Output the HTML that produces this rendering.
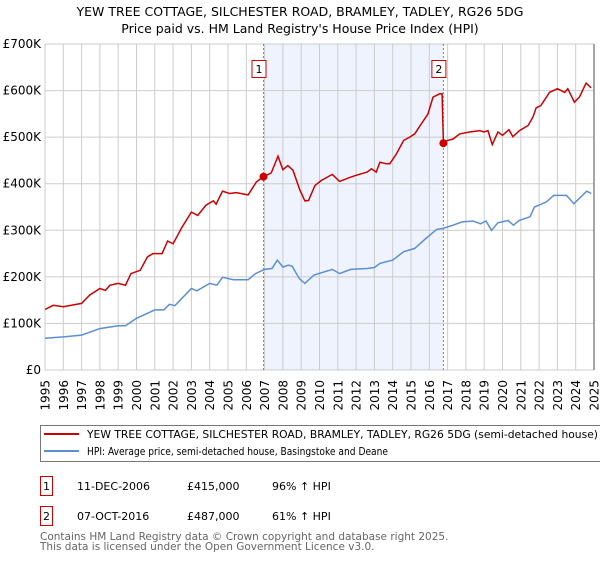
<!DOCTYPE html>
<html><head><meta charset="utf-8"><style>
body{margin:0;background:#fff;width:600px;height:560px;overflow:hidden;font-family:"Liberation Sans","DejaVu Sans",sans-serif}
svg text{font-family:"DejaVu Sans","Liberation Sans",sans-serif}
</style></head><body>
<svg id="chart" width="600" height="560" xmlns="http://www.w3.org/2000/svg">
<text x="300" y="16" text-anchor="middle" font-size="12.5" fill="#000">YEW TREE COTTAGE, SILCHESTER ROAD, BRAMLEY, TADLEY, RG26 5DG</text>
<text x="300" y="33" text-anchor="middle" font-size="12.5" fill="#000">Price paid vs. HM Land Registry's House Price Index (HPI)</text>
<g id="grid"></g><g id="marks"></g><g id="axes"></g>
<g>
<rect x="40.5" y="425.5" width="560" height="36" fill="#fff" stroke="#777"/>
<line x1="44" y1="434" x2="79" y2="434" stroke="#cc0000" stroke-width="2"/>
<text x="87" y="438" font-size="11" fill="#000" textLength="511" lengthAdjust="spacingAndGlyphs">YEW TREE COTTAGE, SILCHESTER ROAD, BRAMLEY, TADLEY, RG26 5DG (semi-detached house)</text>
<line x1="44" y1="451" x2="79" y2="451" stroke="#5b8fd4" stroke-width="2"/>
<text x="87" y="455" font-size="11" fill="#000" textLength="301" lengthAdjust="spacingAndGlyphs">HPI: Average price, semi-detached house, Basingstoke and Deane</text>
</g>
<g font-size="11" fill="#000">
<rect x="40.5" y="476.5" width="12" height="19" fill="#fff" stroke="#cc0000"/>
<text x="46.5" y="490" text-anchor="middle">1</text>
<text x="77" y="490">11-DEC-2006</text><text x="187" y="490">£415,000</text><text x="272" y="490">96% ↑ HPI</text>
<rect x="40.5" y="506.5" width="12" height="19" fill="#fff" stroke="#cc0000"/>
<text x="46.5" y="520" text-anchor="middle">2</text>
<text x="77" y="520">07-OCT-2016</text><text x="187" y="520">£487,000</text><text x="272" y="520">61% ↑ HPI</text>
</g>
<text x="40" y="540" font-size="10.5" fill="#666">Contains HM Land Registry data © Crown copyright and database right 2025.</text>
<text x="40" y="550" font-size="10.5" fill="#666">This data is licensed under the Open Government Licence v3.0.</text>
</svg>
<script>
const hpiYears=[1995.0,1996.0,1997.0,1998.0,1999.0,1999.4,2000.0,2001.0,2001.5,2001.8,2002.1,2003.0,2003.3,2004.0,2004.4,2004.7,2005.3,2006.1,2006.5,2007.0,2007.4,2007.7,2008.0,2008.3,2008.5,2008.9,2009.2,2009.7,2010.7,2011.1,2011.7,2012.6,2013.0,2013.3,2014.0,2014.6,2015.2,2015.8,2016.4,2016.75,2017.3,2017.8,2018.4,2018.8,2019.1,2019.4,2019.75,2020.3,2020.6,2020.9,2021.5,2021.75,2022.4,2022.8,2023.5,2023.9,2024.6,2024.85];
const hpiValues=[68,71,75,89,95,95,111,129,129,141,138,175,170,186,182,199,194,194,207,216,218,236,221,225,223,196,186,204,216,207,216,218,220,229,236,254,261,282,302,304,311,318,320,314,320,300,316,321,311,321,329,350,361,375,375,357,384,379];
const propYears=[1995.0,1995.45,1996.0,1997.0,1997.45,1998.0,1998.3,1998.55,1999.0,1999.4,1999.7,2000.2,2000.6,2000.9,2001.4,2001.7,2002.0,2002.45,2003.0,2003.35,2003.8,2004.2,2004.35,2004.7,2005.1,2005.45,2006.1,2006.55,2006.94,2007.36,2007.73,2008.0,2008.27,2008.55,2008.93,2009.2,2009.4,2009.75,2010.1,2010.7,2011.1,2011.7,2012.0,2012.6,2012.84,2013.1,2013.3,2013.65,2013.84,2014.2,2014.6,2014.93,2015.2,2015.5,2015.93,2016.2,2016.57,2016.7,2016.77,2017.0,2017.3,2017.66,2018.2,2018.75,2019.0,2019.2,2019.44,2019.75,2020.0,2020.35,2020.57,2020.93,2021.4,2021.66,2021.84,2022.1,2022.57,2023.0,2023.4,2023.57,2023.93,2024.2,2024.57,2024.84];
const propValues=[130,139,136,143,161,175,171,182,186,182,207,214,243,250,250,277,271,304,339,332,354,363,356,384,379,381,376,404,415,423,459,430,439,429,386,363,364,396,407,420,405,414,418,425,432,425,446,443,443,464,493,500,507,525,550,586,593,593,487,493,496,507,511,514,511,514,484,511,504,516,501,514,525,543,563,568,596,604,596,604,575,586,616,606];
const saleYears=[2006.94,2016.77];
const saleValues=[415,487];
const saleLabels=["1","2"];
const yTicks=[0,100,200,300,400,500,600,700];
const yTickLabels=["£0","£100K","£200K","£300K","£400K","£500K","£600K","£700K"];
const xTicks=[1995,1996,1997,1998,1999,2000,2001,2002,2003,2004,2005,2006,2007,2008,2009,2010,2011,2012,2013,2014,2015,2016,2017,2018,2019,2020,2021,2022,2023,2024,2025];

const X0=45,X1=594,Y0=370,Y1=44;
const x=y=>X0+(y-1995)/30*(X1-X0);
const yv=v=>Y0-v/700*(Y0-Y1);
const NS="http://www.w3.org/2000/svg";
function mk(tag,parent,attrs){const e=document.createElementNS(NS,tag);for(const k in attrs)e.setAttribute(k,attrs[k]);parent.appendChild(e);return e;}
const grid=document.getElementById('grid'),marks=document.getElementById('marks'),axes=document.getElementById('axes');
const shade=mk('rect',grid,{x:x(saleYears[0]),y:Y1,width:x(saleYears[1])-x(saleYears[0]),height:Y0-Y1,fill:'#eef3fd'});


xTicks.forEach(t=>{
  const l=mk('line',grid,{x1:x(t),y1:Y1,x2:x(t),y2:Y0,stroke:'#cccccc','stroke-width':1});
  
  
  const tx=mk('text',axes,{x:0,y:0,'font-size':12,fill:'#000','text-anchor':'end',transform:`translate(${x(t)+4.5},${Y0+10}) rotate(-90)`});
  tx.textContent=t;
  
  
});
yTicks.forEach((t,i)=>{
  const l=mk('line',grid,{x1:X0,y1:yv(t),x2:X1,y2:yv(t),stroke:'#cccccc','stroke-width':1});
  
  
  const tx=mk('text',axes,{x:X0-4,y:yv(t)+4,'font-size':12,fill:'#000','text-anchor':'end'});
  tx.textContent=yTickLabels[i];
  
  
});
const edge=mk('line',grid,{x1:X1,y1:Y1,x2:X1,y2:Y0,stroke:'#888','stroke-width':1.5});


saleYears.forEach((s,i)=>{
  const l=mk('line',marks,{x1:x(s),y1:Y1,x2:x(s),y2:Y0,stroke:'#e06060','stroke-width':1,'stroke-dasharray':'2,2'});
  
  
});
function path(xs,vs){return xs.map((t,i)=>(i?'L':'M')+x(t).toFixed(1)+','+yv(vs[i]).toFixed(1)).join('');}
const hp=mk('path',marks,{d:path(hpiYears,hpiValues),fill:'none',stroke:'#5b8fd4','stroke-width':1.5});


const pp=mk('path',marks,{d:path(propYears,propValues),fill:'none',stroke:'#cc0000','stroke-width':1.5});


saleYears.forEach((s,i)=>{
  const c=mk('circle',marks,{cx:x(s),cy:yv(saleValues[i]),r:4,fill:'#cc0000'});
  
  
  const g=mk('g',marks,{});
  
  
  mk('rect',g,{x:x(s)-11.5,y:60.5,width:14,height:17,fill:'#fff',stroke:'#cc0000'});
  const t=mk('text',g,{x:x(s)-4.5,y:73,'font-size':11,'text-anchor':'middle',fill:'#000'});
  t.textContent=saleLabels[i];
});
</script>
</body></html>
